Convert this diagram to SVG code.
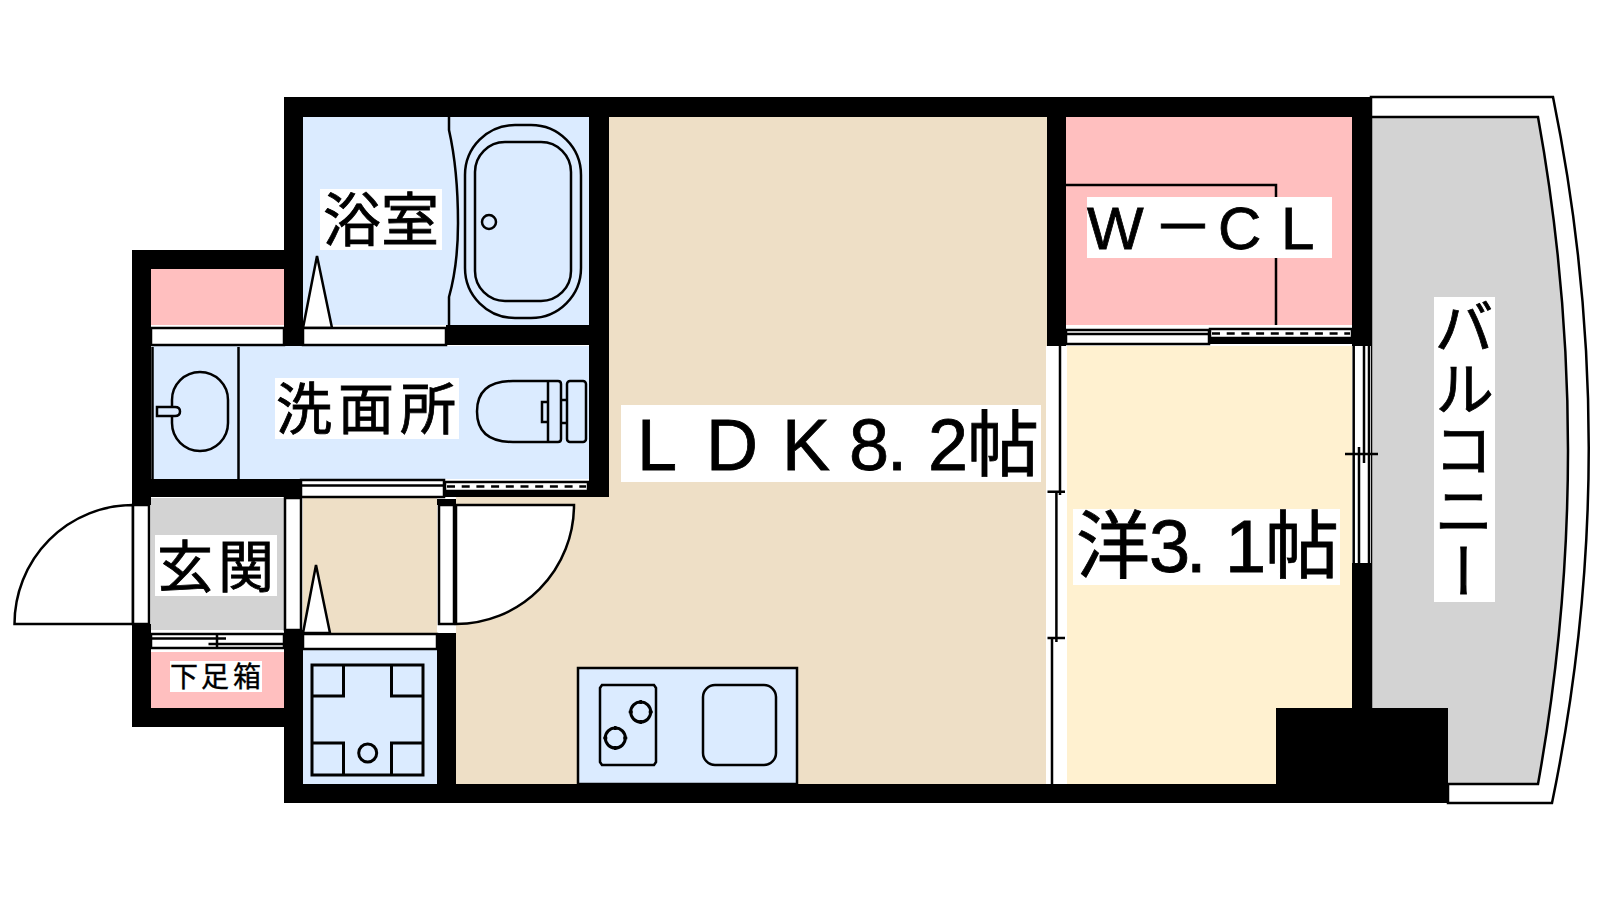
<svg xmlns="http://www.w3.org/2000/svg" width="1600" height="900" viewBox="0 0 1600 900">
<style>
.blue{fill:#DBEBFF}.pink{fill:#FFBFBF}.beige{fill:#EEDFC6}.yellow{fill:#FFF1D0}.gray{fill:#D3D3D3}
.wall{fill:#000}
.w{fill:#fff}
.ln{fill:none;stroke:#000;stroke-width:2.500}
.ln3{fill:none;stroke:#000;stroke-width:3}
.wl{fill:#fff;stroke:#000;stroke-width:2.500}
.dash{fill:none;stroke:#000;stroke-width:2.500;stroke-dasharray:8 6.700}
text{font-family:"Liberation Sans","Noto Sans CJK JP",sans-serif;fill:#000;stroke:#000;stroke-width:.8}
.jp{font-family:"Noto Sans CJK JP","Noto Sans CJK SC",sans-serif}
</style>
<rect width="1600" height="900" fill="#fff"/>
<g id="balcony">
<path class="wl" d="M1371 97H1553Q1625 450 1552 803H1448V784H1371Z"/>
<path class="gray" d="M1371 117H1538Q1598 450 1538 784H1371Z" stroke="#000" stroke-width="2.500"/>
<rect class="w" x="1434" y="297" width="61" height="305"/>
<text class="jp" x="1464" y="297" font-size="60" letter-spacing="1" style="writing-mode:vertical-rl">バルコニー</text>
</g>
<g id="ldk">
<path class="beige" d="M609 117H1047V784H456V497H609Z"/>
<rect class="beige" x="303" y="498" width="134" height="136"/>
</g>
<g id="yoshitsu">
<rect class="w" x="1046" y="346" width="21" height="438"/>
<rect class="yellow" x="1067" y="346" width="285" height="438"/>
</g>
<g id="walkin-closet">
<rect class="pink" x="1066" y="117" width="286" height="208"/>
<path class="ln" d="M1066 185H1276V325"/>
</g>
<g id="bath">
<rect class="blue" x="303" y="117" width="286" height="208"/>
<path class="ln" d="M449 117V130Q458 170 458 223Q458 265 449 297V325"/>
<rect class="ln" x="465" y="125" width="116" height="193" rx="50" ry="50"/>
<rect class="ln" x="475" y="142" width="96" height="159" rx="30" ry="30"/>
<circle class="ln" cx="489" cy="222" r="7"/>
</g>
<g id="wash">
<rect class="blue" x="152" y="346" width="437" height="133"/>
<path class="ln" d="M238.500 347V479M152.500 347V479"/>
<rect class="ln" x="172" y="372" width="56" height="79" rx="28" ry="28"/>
<path class="ln" d="M157 407H175Q180 407 180 411.500Q180 416 175 416H157Z" style="fill:#DBEBFF"/>
<path class="ln" d="M548 381H513Q477 381 477 411.500Q477 442 513 442H548ZM548 381H558Q561 381 561 384V439Q561 442 558 442H548M548 400V402H542V422H548M561 400H567M561 423H567"/>
<rect class="ln" x="567" y="381" width="19" height="61" rx="3"/>
</g>
<g id="closet-upper"><rect class="pink" x="151" y="269" width="133" height="56"/></g>
<g id="genkan"><rect class="gray" x="151" y="498" width="133" height="132"/></g>
<g id="shoe-box"><rect class="pink" x="151" y="652" width="133" height="56"/></g>
<g id="laundry">
<rect class="blue" x="303" y="650" width="134" height="134"/>
<rect class="ln3" x="312" y="665" width="111" height="110"/>
<path class="ln3" d="M312 696H343.500V665M423 696H391.500V665M312 743H343.500V775M423 743H391.500V775"/>
<circle class="ln3" cx="367.700" cy="753" r="9"/>
</g>
<g id="kitchen">
<rect class="blue" x="578" y="668" width="219" height="116" stroke="#000" stroke-width="2.500"/>
<path class="ln" d="M602 685H654L656 688V762L654 765H602L600 762V688Z"/>
<circle class="ln3" cx="640.700" cy="712" r="10"/>
<circle class="ln3" cx="615.300" cy="738" r="10"/>
<path class="ln" d="M640.700 700V704M640.700 720V724M628.700 712H632.700M648.700 712H652.700M615.300 726V730M615.300 746V750M603.300 738H607.300M623.300 738H627.300"/>
<rect class="ln" x="703" y="685" width="73" height="80" rx="12"/>
</g>
<g id="walls" class="wall">
<rect x="284" y="97" width="1087" height="20"/>
<rect x="284" y="97" width="19" height="249"/>
<rect x="132" y="250" width="152" height="19"/>
<rect x="132" y="250" width="19" height="255"/>
<rect x="132" y="479" width="169" height="18"/>
<rect x="446" y="325" width="163" height="20"/>
<rect x="589" y="97" width="20" height="400"/>
<rect x="444" y="491" width="165" height="6"/>
<rect x="132" y="624" width="19" height="103"/>
<rect x="132" y="708" width="152" height="19"/>
<rect x="284" y="630" width="19" height="173"/>
<rect x="437" y="633" width="19" height="151"/>
<rect x="437" y="499" width="19" height="6"/>
<rect x="284" y="784" width="1164" height="19"/>
<rect x="1047" y="97" width="19" height="249"/>
<rect x="1352" y="97" width="19" height="249"/>
<rect x="1352" y="563" width="19" height="145"/>
<rect x="1276" y="708" width="172" height="95"/>
</g>
<g id="doors">
<path class="wl" d="M133 505V624H14.500A118.500 119 0 0 1 133 505Z"/>
<rect class="wl" x="133" y="505" width="16" height="119"/>
<rect class="wl" x="285" y="498" width="16" height="132"/>
<path class="wl" d="M456 505H574A118 119 0 0 1 456 624Z"/>
<rect class="wl" x="439" y="505" width="15" height="119"/>
<path class="wl" d="M303 328L317 256L332 328Z"/>
<path class="wl" d="M303 633L316 565L330 633Z"/>
<rect class="wl" x="151" y="328" width="133" height="17"/>
<rect class="wl" x="303" y="328" width="143" height="17"/>
<rect class="wl" x="303" y="634" width="134" height="15"/>
<rect class="wl" x="301" y="480" width="143" height="17"/>
<path class="ln" d="M301 485.500H444"/>
<rect class="wl" x="445" y="482" width="143" height="9"/>
<path class="dash" d="M447 486.500H586"/>
<rect class="wl" x="151" y="634" width="133" height="14"/>
<path class="ln" d="M151 638.500H226M208.500 644H284M217 634V648"/>
<rect class="wl" x="1066" y="330" width="143" height="14"/>
<path class="ln" d="M1066 334H1209"/>
<rect class="wl" x="1210" y="329" width="142" height="9"/>
<path class="dash" d="M1212 333.500H1350"/>
<rect class="wall" x="1209" y="338" width="143" height="6"/>
<path class="ln" d="M1060 346V495M1047.500 491.700H1065M1056.400 491V642M1047.500 638H1065M1052 638V784"/>
<rect class="w" x="1353" y="346" width="18" height="217"/>
<path class="ln" d="M1353.700 346V563M1364 346V463M1369 346V563M1345 454H1378M1359 447V563"/>
</g>
<g id="labels">
<rect class="w" x="320" y="189" width="122" height="61"/>
<text class="jp" x="323 381" y="241" font-size="58">浴室</text>
<rect class="w" x="275" y="378" width="184" height="61"/>
<text class="jp" x="276 338 400" y="429" font-size="56">洗面所</text>
<rect class="w" x="155" y="535" width="122" height="61"/>
<text class="jp" x="157 218" y="587" font-size="56">玄関</text>
<rect class="w" x="170" y="661" width="92" height="31"/>
<text class="jp" x="170 201 233" y="687" font-size="28" style="stroke-width:.4">下足箱</text>
<rect class="w" x="621" y="405" width="420" height="77"/>
<text x="637 706 782 849 887 928 967" y="470" font-size="72">LDK8.2帖</text>
<rect class="w" x="1087" y="197" width="245" height="61"/>
<text x="1087 1153 1218 1281" y="249" font-size="60">W－CL</text>
<rect class="w" x="1073" y="509" width="267" height="76"/>
<text x="1076 1149 1186 1225 1265" y="572" font-size="74">洋3.1帖</text>
</g>
</svg>
